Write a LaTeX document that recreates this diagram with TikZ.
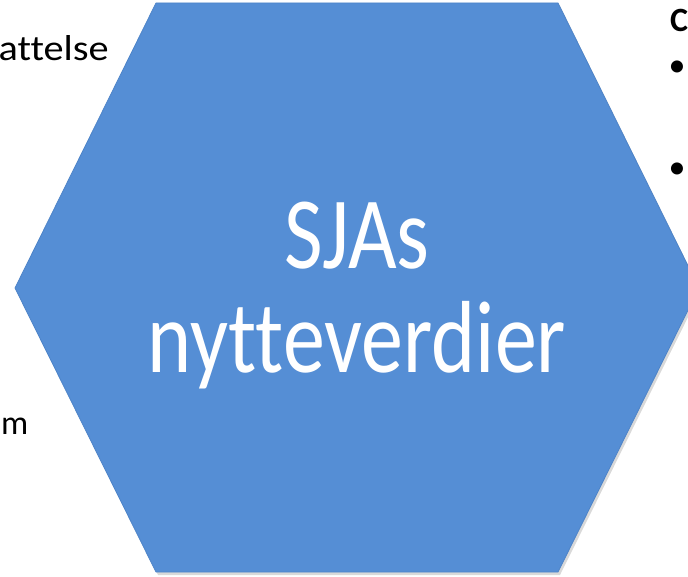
\documentclass[tikz,border=0pt]{standalone}
\usepackage{fontspec}
\setmainfont{Carlito}[Ligatures=NoCommon]
\usetikzlibrary{calc,shadows}
\usepackage{tkz-euclide}
\definecolor{HexClr}{RGB}{85,142,213}
\definecolor{HexLine}{RGB}{78,132,200}

\begin{document}
\begin{tikzpicture}[x=1pt,y=1pt]
\useasboundingbox (0,0) rectangle (688,576);

\tkzDefPoints{156/573/H1,558/573/H2,699/288/H3,558/4/H4,156/4/H5,15/288/H6}

\tkzFillPolygon[fill=HexClr,drop shadow={shadow xshift=2pt,shadow yshift=-3pt,opacity=.3}](H1,H2,H3,H4,H5,H6)
\tkzDrawPolygon[color=HexLine,line width=.8pt](H1,H2,H3,H4,H5,H6)

\node[text=white,font=\fontsize{84}{84}\selectfont,inner sep=0pt] (title) at (357,276)
  {\scalebox{1}[1.22]{\begin{tabular}{@{}c@{}}SJAs\\[1pt]nytteverdier\end{tabular}}};

% text beside the hexagon
\node[anchor=base east,font=\fontsize{36}{40}\selectfont,inner sep=0pt] (ltop) at (109,515) {\scalebox{1.12}[1]{attelse}};
\node[anchor=base west,font=\fontsize{34}{40}\selectfont,inner sep=0pt] (lbot) at (1,141) {m};
\node[anchor=base west,font=\bfseries\fontsize{34}{40}\selectfont,inner sep=0pt] (rhead) at (670,544) {C};
\node[font=\fontsize{34}{40}\selectfont,inner sep=0pt] (rb1) at (677,507) {\textbullet};
\node[font=\fontsize{34}{40}\selectfont,inner sep=0pt] (rb2) at (677,405) {\textbullet};

\end{tikzpicture}
\end{document}
